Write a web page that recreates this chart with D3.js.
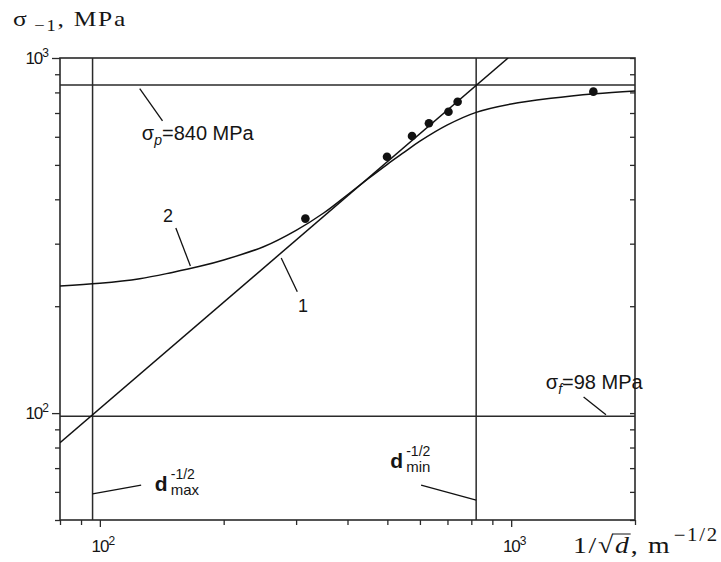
<!DOCTYPE html>
<html>
<head>
<meta charset="utf-8">
<script src="https://cdn.jsdelivr.net/npm/d3@7"></script>
<style>
body { margin: 0; background: #fff; }
svg text { fill: #151515; }
.sans { font-family: "Liberation Sans", Arial, sans-serif; }
.serif { font-family: "Liberation Serif", "Times New Roman", serif; }
</style>
</head>
<body>
<svg id="chart" width="721" height="562"></svg>
<script>
// measured points (1/sqrt(d), sigma_-1)
var dotsX = [316, 499, 574, 631, 704, 741, 1584];
var dotsY = [353, 527, 603, 655, 706, 753, 804];

// curve 2
var curveX = [80, 100, 125, 150, 175, 200, 250, 300, 350, 400, 450, 500, 550, 600, 700, 822, 1000, 1250, 1600, 2000];
var curveY = [228, 232, 239, 249, 259, 270, 294, 327, 366, 412, 458, 502, 543, 583, 648, 703, 742, 770, 793, 808];

// straight line 1
var line1X = [80, 983];
var line1Y = [82.5, 1000];

// reference levels
var sigmaP = 840;
var sigmaF = 98;
var dMax = 96;
var dMin = 822;

var xMajor = [100, 1000];
var xMajorLabels = ['2', '3'];
var xMinor = [80, 90, 200, 300, 400, 500, 600, 700, 800, 900, 2000];
var yMajor = [100, 1000];
var yMajorLabels = ['2', '3'];
var yMinor = [50, 60, 70, 80, 90, 200, 300, 400, 500, 600, 700, 800, 900];

// frame edges
var frame = {l: 60, r: 635, t: 58, b: 520};
var ink = '#2a2a2a';

var svg = d3.select('#chart');

var x = d3.scaleLog().domain([80, 2000]).range([frame.l, frame.r]);
var y = d3.scaleLog().domain([50, 1000]).range([frame.b, frame.t]);

svg.append('clipPath').attr('id', 'frameClip')
    .append('rect')
    .attr('x', frame.l).attr('y', frame.t)
    .attr('width', frame.r - frame.l).attr('height', frame.b - frame.t);

// ticks
function tickAxis(axis, vals, size, tx, ty) {
    var g = svg.append('g')
        .attr('transform', 'translate(' + tx + ',' + ty + ')')
        .call(axis.tickValues(vals).tickSize(size).tickFormat(''));
    g.select('.domain').remove();
    g.selectAll('line').attr('stroke', ink).attr('stroke-width', 1.3);
    return g;
}

tickAxis(d3.axisLeft(y), yMinor, 5, frame.l, 0);
tickAxis(d3.axisLeft(y), yMajor, 8, frame.l, 0);
tickAxis(d3.axisLeft(y), yMinor.concat(yMajor), 5, frame.r, 0);
tickAxis(d3.axisBottom(x), xMinor, 5, 0, frame.b);
tickAxis(d3.axisBottom(x), xMajor, 7, 0, frame.b);

// tick labels 10^n
function powerLabel(xPos, yPos, sup, anchor) {
    var t = svg.append('text')
        .attr('class', 'sans')
        .attr('x', xPos)
        .attr('y', yPos)
        .attr('text-anchor', anchor)
        .style('font-size', '17px')
        .style('letter-spacing', '-1px');
    t.append('tspan').text('10');
    t.append('tspan').attr('dy', -7).style('font-size', '12px').text(sup);
}

yMajor.forEach(function(v, i) {
    powerLabel(48, y(v) + 6, yMajorLabels[i], 'end');
});
xMajor.forEach(function(v, i) {
    powerLabel(x(v) + 3, frame.b + 32, xMajorLabels[i], 'middle');
});

// guide lines
var guides = svg.append('g')
    .attr('stroke', ink)
    .attr('stroke-width', 1.5);

guides.append('line')
    .attr('x1', frame.l).attr('x2', frame.r)
    .attr('y1', y(sigmaP)).attr('y2', y(sigmaP));
guides.append('line')
    .attr('x1', frame.l).attr('x2', frame.r)
    .attr('y1', y(sigmaF)).attr('y2', y(sigmaF));
guides.append('line')
    .attr('x1', x(dMax)).attr('x2', x(dMax))
    .attr('y1', frame.t).attr('y2', frame.b);
guides.append('line')
    .attr('x1', x(dMin)).attr('x2', x(dMin))
    .attr('y1', frame.t).attr('y2', frame.b);

// frame
svg.append('rect')
    .attr('x', frame.l).attr('y', frame.t)
    .attr('width', frame.r - frame.l).attr('height', frame.b - frame.t)
    .attr('fill', 'none')
    .attr('stroke', ink)
    .attr('stroke-width', 1.6);

// line 1 and curve 2
var lineGen = d3.line()
    .x(function(d) { return x(d[0]); })
    .y(function(d) { return y(d[1]); });

svg.append('path')
    .attr('d', lineGen(line1X.map(function(v, i) { return [v, line1Y[i]]; })))
    .attr('clip-path', 'url(#frameClip)')
    .attr('fill', 'none')
    .attr('stroke', '#111')
    .attr('stroke-width', 1.5);

svg.append('path')
    .attr('d', lineGen.curve(d3.curveCatmullRom.alpha(0.5))(curveX.map(function(v, i) { return [v, curveY[i]]; })))
    .attr('clip-path', 'url(#frameClip)')
    .attr('fill', 'none')
    .attr('stroke', '#111')
    .attr('stroke-width', 1.5);

svg.append('g').selectAll('circle')
    .data(dotsX)
    .enter()
    .append('circle')
    .attr('cx', function(d) { return x(d); })
    .attr('cy', function(d, i) { return y(dotsY[i]); })
    .attr('r', 4.3)
    .attr('fill', '#111');

// leaders
function leader(x1, y1, x2, y2) {
    svg.append('line')
        .attr('x1', x(x1)).attr('y1', y(y1))
        .attr('x2', x(x2)).attr('y2', y(y2))
        .attr('stroke', '#111')
        .attr('stroke-width', 1.3);
}

leader(125, 820, 142, 665);
leader(1500, 111, 1700, 99);
leader(dMax, 59.2, 126, 62.7);
leader(604, 62.7, dMin, 56.9);
leader(153, 332, 166, 259.6);
leader(276, 273.5, 302, 219.6);

// annotation texts
function sigmaLabel(xv, yv, sub, rest) {
    var t = svg.append('text')
        .attr('class', 'sans')
        .attr('x', x(xv))
        .attr('y', y(yv))
        .style('font-size', '20px');
    t.append('tspan').text('σ');
    t.append('tspan').attr('dy', 5).style('font-size', '14px').style('font-style', 'italic').text(sub);
    t.append('tspan').attr('dy', -5).text(rest);
}

sigmaLabel(126.5, 588, 'p', '=840 MPa');
sigmaLabel(1214, 117, 'f', '=98 MPa');

svg.append('text').attr('class', 'sans')
    .attr('x', x(146.5)).attr('y', y(346))
    .attr('text-anchor', 'middle')
    .style('font-size', '18px')
    .text('2');
svg.append('text').attr('class', 'sans')
    .attr('x', x(312)).attr('y', y(193))
    .attr('text-anchor', 'middle')
    .style('font-size', '18px')
    .text('1');

function dLabel(xv, yv, sub) {
    var px = x(xv), py = y(yv);
    svg.append('text').attr('class', 'sans')
        .attr('x', px).attr('y', py)
        .style('font-size', '21px')
        .style('font-weight', 'bold')
        .text('d');
    svg.append('text').attr('class', 'sans')
        .attr('x', px + 16).attr('y', py - 12)
        .style('font-size', '14px')
        .text('-1/2');
    svg.append('text').attr('class', 'sans')
        .attr('x', px + 16).attr('y', py + 4)
        .style('font-size', '15px')
        .text(sub);
}

dLabel(136, 60.3, 'max');
dLabel(508, 70, 'min');

// axis titles, slightly stretched sideways like the scan
function stretchTo(g, node, x0, x1) {
    var w = node.getBBox().width;
    g.attr('transform', 'translate(' + x0 + ',' + g.attr('data-y') + ') scale(' + ((x1 - x0) / w) + ',1)');
}

var yTitleG = svg.append('g').attr('data-y', 26);
var yTitle = yTitleG.append('text')
    .attr('class', 'serif')
    .style('font-size', '22px')
    .style('letter-spacing', '1.5px');
yTitle.append('tspan').text('σ');
yTitle.append('tspan').attr('dx', 5).attr('dy', 5).style('font-size', '16px').text('−1');
yTitle.append('tspan').attr('dy', -5).text(', MPa');
stretchTo(yTitleG, yTitle.node(), 13, 127);

var xTitleG = svg.append('g').attr('data-y', 553);
var xTitle = xTitleG.append('text')
    .attr('class', 'serif')
    .style('font-size', '24px')
    .style('letter-spacing', '1.5px');
xTitle.append('tspan').text('1/√');
xTitle.append('tspan').style('font-style', 'italic').text('d');
xTitle.append('tspan').text(', m');
xTitle.append('tspan').attr('dx', 2).attr('dy', -12).style('font-size', '18px').text('−1/2');

// bar over d for the root sign
var rootBox = xTitle.node().getExtentOfChar(2);
var dBox = xTitle.node().getExtentOfChar(3);
xTitleG.append('line')
    .attr('x1', rootBox.x + rootBox.width - 2.5)
    .attr('x2', dBox.x + dBox.width)
    .attr('y1', rootBox.y + 2)
    .attr('y2', rootBox.y + 2)
    .attr('stroke', '#151515')
    .attr('stroke-width', 1);
stretchTo(xTitleG, xTitle.node(), 573, 719);
</script>
</body>
</html>
